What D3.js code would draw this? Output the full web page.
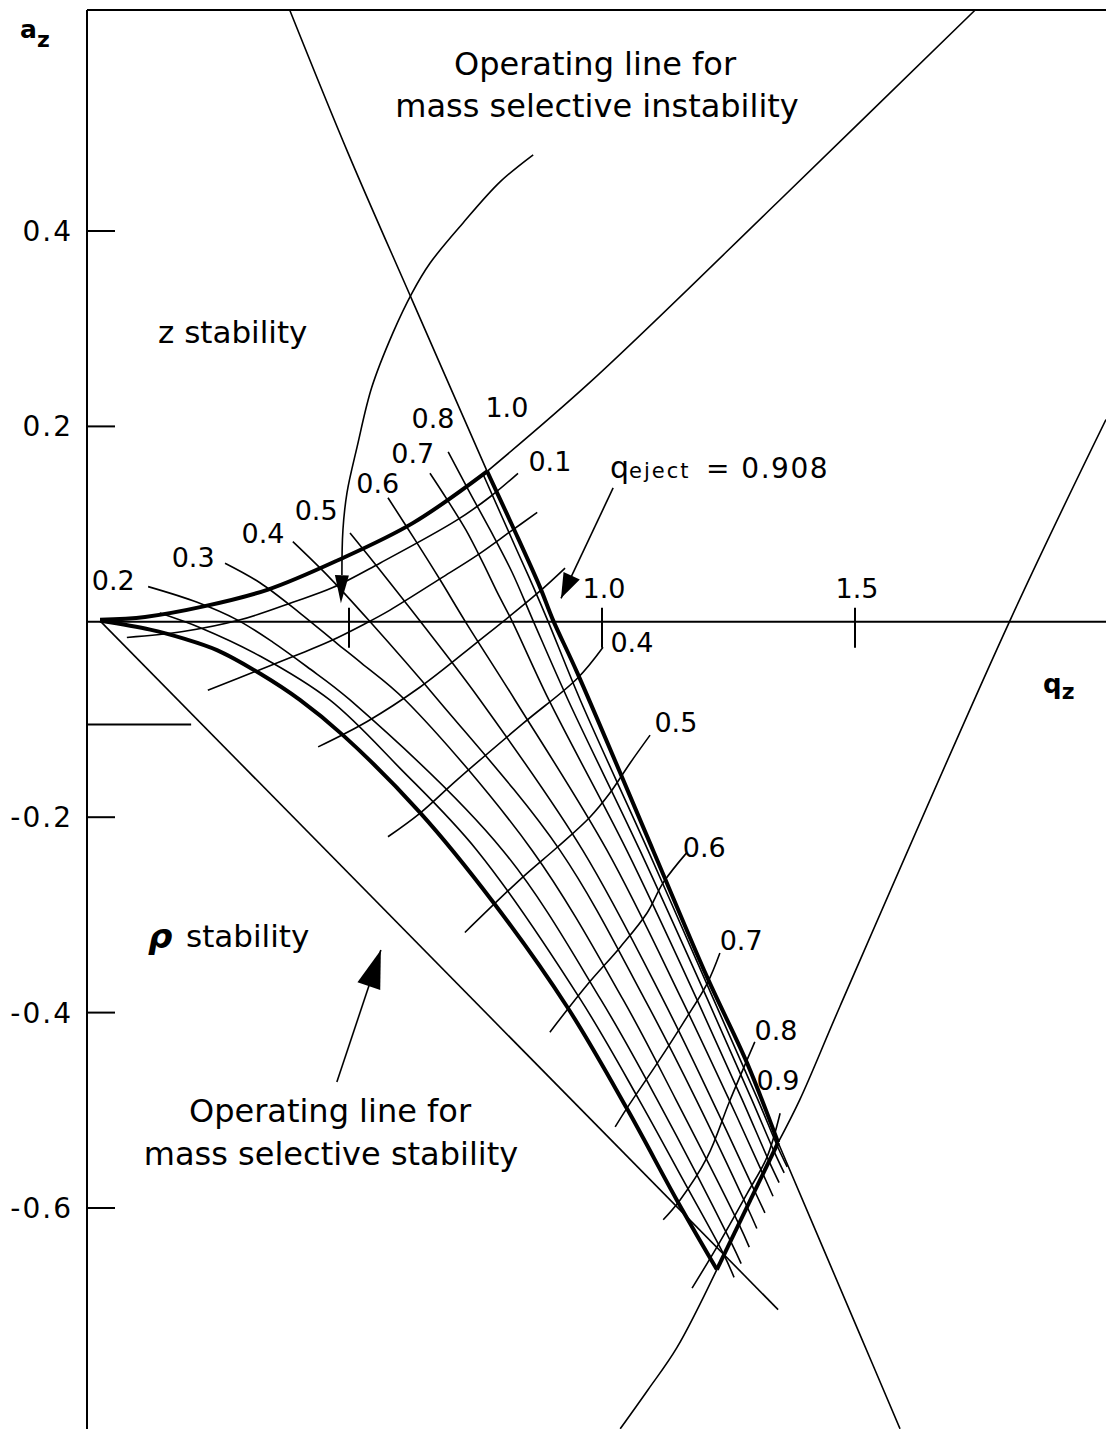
<!DOCTYPE html>
<html>
<head>
<meta charset="utf-8">
<script src="https://cdn.jsdelivr.net/npm/d3@7"></script>
<style>
body { margin: 0; background: #fff; }
svg { display: block; }
text { font-family: "DejaVu Sans", sans-serif; fill: #000; }
</style>
</head>
<body>
<div id="chart"></div>
<script>
// stability diagram, a_z against q_z, with iso-beta lines
var W = 1106, H = 1429

var xTicks = [0.5, 1.0, 1.5]
var xTickLabels = ["", "1.0", "1.5"]
var yTicks = [0.4, 0.2, -0.2, -0.4, -0.6]
var yTickLabels = ["0.4", "0.2", "-0.2", "-0.4", "-0.6"]
var aMark = -0.105

// boundaries, points are [q, a]
var betaR0 = [[0.008,0.002],[0.097,0.005],[0.215,0.016],[0.340,0.033],[0.478,0.063],[0.626,0.101],[0.773,0.154]]
var betaR0ext = [[0.773,0.154],[0.976,0.245],[1.352,0.432],[1.737,0.626]]
var betaZ0 = [[0.008,0.001],[0.107,-0.008],[0.172,-0.017],[0.239,-0.029],[0.324,-0.053],[0.403,-0.080],[0.488,-0.116],[0.640,-0.195],[0.785,-0.287],[0.931,-0.394],[1.049,-0.498],[1.148,-0.592],[1.227,-0.663]]
var betaZ1top = [[0.383,0.626],[0.498,0.480],[0.625,0.329],[0.773,0.154]]
var betaZ1 = [[0.773,0.154],[0.824,0.097],[0.877,0.036],[0.903,0.002],[0.951,-0.052],[1.101,-0.234],[1.208,-0.364],[1.287,-0.452],[1.348,-0.533]]
var betaZ1ext = [[1.348,-0.533],[1.506,-0.725],[1.589,-0.826]]
var betaR1low = [[1.036,-0.826],[1.091,-0.786],[1.148,-0.743],[1.227,-0.663]]
var betaR1 = [[1.227,-0.663],[1.348,-0.533]]
var betaR1ext = [[1.348,-0.533],[1.391,-0.489],[1.470,-0.394],[1.806,0.001],[1.996,0.207]]

// operating lines
var opStable = [[0.008,0.001],[1.348,-0.704]]
var opUnstable = [[0.864,0.478],[0.798,0.450],[0.725,0.408],[0.660,0.367],[0.625,0.337],[0.587,0.296],[0.545,0.240],[0.516,0.179],[0.496,0.132],[0.488,0.094],[0.486,0.048],[0.484,0.019]]

// iso beta_z lines
var isoZvals = ["0.1","0.2","0.3","0.4","0.5","0.6","0.7","0.8","0.9"]
var isoZ = [
  [[0.126,0.009],[0.206,-0.006],[0.324,-0.035],[0.462,-0.080],[0.601,-0.150],[0.753,-0.234],[0.958,-0.387],[1.073,-0.489],[1.160,-0.571],[1.241,-0.648],[1.261,-0.671]],
  [[0.103,0.036],[0.200,0.020],[0.279,0.002],[0.350,-0.021],[0.417,-0.046],[0.502,-0.080],[0.804,-0.234],[0.998,-0.387],[1.109,-0.489],[1.255,-0.635],[1.275,-0.657]],
  [[0.255,0.060],[0.324,0.040],[0.403,0.009],[0.476,-0.022],[0.524,-0.042],[0.611,-0.080],[0.862,-0.234],[1.042,-0.387],[1.146,-0.489],[1.271,-0.617],[1.291,-0.640]],
  [[0.389,0.082],[0.462,0.045],[0.540,0.001],[0.676,-0.080],[0.917,-0.234],[1.085,-0.387],[1.186,-0.489],[1.287,-0.599],[1.306,-0.621]],
  [[0.502,0.091],[0.561,0.053],[0.640,0.001],[0.759,-0.080],[0.962,-0.234],[1.121,-0.387],[1.217,-0.489],[1.302,-0.583],[1.322,-0.605]],
  [[0.577,0.127],[0.634,0.081],[0.680,0.043],[0.729,0.001],[0.828,-0.080],[1.010,-0.234],[1.158,-0.387],[1.251,-0.489],[1.318,-0.565],[1.338,-0.588]],
  [[0.660,0.152],[0.694,0.125],[0.731,0.094],[0.765,0.060],[0.794,0.029],[0.822,0.001],[0.895,-0.080],[1.049,-0.234],[1.188,-0.387],[1.277,-0.489],[1.330,-0.552],[1.350,-0.574]],
  [[0.696,0.174],[0.739,0.132],[0.779,0.094],[0.822,0.051],[0.864,0.001],[0.933,-0.080],[1.075,-0.234],[1.209,-0.387],[1.296,-0.489],[1.340,-0.542],[1.360,-0.564]],
  [[0.765,0.151],[0.832,0.073],[0.864,0.036],[0.893,0.001],[0.957,-0.080],[1.091,-0.234],[1.221,-0.387],[1.308,-0.489],[1.346,-0.536],[1.366,-0.558]]
]
var isoZlabels = ["0.2","0.3","0.4","0.5","0.6","0.7","0.8","1.0"]
var isoZlabelAt = [[0.034,0.033],[0.192,0.056],[0.330,0.081],[0.435,0.104],[0.557,0.132],[0.626,0.163],[0.666,0.198],[0.812,0.210]]

// iso beta_r lines
var isoRvals = ["0.1","0.2","0.3","0.4","0.5","0.6","0.7","0.8","0.9"]
var isoR = [
  [[0.061,-0.016],[0.172,-0.010],[0.285,0.002],[0.389,0.020],[0.468,0.035],[0.561,0.060],[0.713,0.104],[0.779,0.128],[0.834,0.152]],
  [[0.221,-0.070],[0.324,-0.049],[0.397,-0.034],[0.462,-0.020],[0.528,-0.003],[0.581,0.012],[0.686,0.046],[0.753,0.068],[0.818,0.092],[0.872,0.112]],
  [[0.439,-0.128],[0.536,-0.102],[0.640,-0.067],[0.753,-0.021],[0.872,0.029],[0.927,0.055]],
  [[0.577,-0.220],[0.640,-0.196],[0.713,-0.162],[0.844,-0.104],[0.951,-0.058],[1.002,-0.026]],
  [[0.729,-0.318],[0.844,-0.261],[0.911,-0.231],[0.976,-0.200],[1.016,-0.175],[1.055,-0.145],[1.095,-0.116]],
  [[0.897,-0.420],[0.970,-0.372],[1.036,-0.333],[1.089,-0.298],[1.121,-0.267],[1.168,-0.236]],
  [[1.026,-0.517],[1.049,-0.498],[1.109,-0.452],[1.160,-0.411],[1.208,-0.370],[1.233,-0.339]],
  [[1.121,-0.612],[1.154,-0.592],[1.208,-0.548],[1.252,-0.491],[1.302,-0.430]],
  [[1.178,-0.682],[1.227,-0.640],[1.287,-0.585],[1.326,-0.548],[1.352,-0.503]]
]
var isoRlabels = ["0.1","0.4","0.5","0.6","0.7","0.8","0.9"]
var isoRlabelAt = [[0.897,0.154],[1.059,-0.031],[1.146,-0.113],[1.202,-0.241],[1.275,-0.336],[1.344,-0.428],[1.348,-0.479]]

// arrows [from, tip]
var ejectArrow = [[1.022,0.137],[0.919,0.024]]
var stableArrow = [[0.476,-0.471],[0.563,-0.336]]

var x = d3.scaleLinear().domain([0, 1.5]).range([96, 855])
var y = d3.scaleLinear().domain([0.4, -0.6]).range([231, 1208])

var svg = d3.select("#chart").append("svg")
  .attr("width", W)
  .attr("height", H)

var line = d3.line()
  .x(function(d) { return x(d[0]) })
  .y(function(d) { return y(d[1]) })
  .curve(d3.curveCatmullRom.alpha(0.5))

function drawCurve(pts, w) {
  svg.append("path")
    .attr("d", line(pts))
    .attr("fill", "none")
    .attr("stroke", "#000")
    .attr("stroke-width", w)
    .attr("stroke-linejoin", "round")
}

// filled arrow head at the tip, pointing away from "from"
function arrowHead(from, tip, len, half) {
  var x0 = x(from[0]), y0 = y(from[1]), x1 = x(tip[0]), y1 = y(tip[1])
  var dx = x1 - x0, dy = y1 - y0, l = Math.sqrt(dx*dx + dy*dy)
  var ux = dx/l, uy = dy/l
  var bx = x1 - ux*len, by = y1 - uy*len
  var p = [[x1,y1],[bx - uy*half, by + ux*half],[bx + uy*half, by - ux*half]]
  svg.append("path")
    .attr("d", "M" + p.join("L") + "Z")
    .attr("fill", "#000")
}

// frame and axis
var y0 = y(0)
svg.append("line").attr("x1", 87).attr("x2", 87).attr("y1", 10).attr("y2", H)
  .attr("stroke", "#000").attr("stroke-width", 2)
svg.append("line").attr("x1", 87).attr("x2", W).attr("y1", 10).attr("y2", 10)
  .attr("stroke", "#000").attr("stroke-width", 2)
svg.append("line").attr("x1", 87).attr("x2", W).attr("y1", y0).attr("y2", y0)
  .attr("stroke", "#000").attr("stroke-width", 2)

svg.selectAll(".ytick").data(yTicks).enter().append("line")
  .attr("class", "ytick")
  .attr("x1", 87).attr("x2", 115)
  .attr("y1", function(d) { return y(d) }).attr("y2", function(d) { return y(d) })
  .attr("stroke", "#000").attr("stroke-width", 2)
svg.append("line").attr("x1", 87).attr("x2", x(0.188))
  .attr("y1", y(aMark)).attr("y2", y(aMark))
  .attr("stroke", "#000").attr("stroke-width", 2)

svg.selectAll(".ylab").data(yTicks).enter().append("text")
  .attr("class", "ylab")
  .attr("x", 73)
  .attr("y", function(d) { return y(d) + 10 })
  .attr("text-anchor", "end")
  .style("font-size", "28px")
  .style("letter-spacing", "2px")
  .text(function(d, i) { return yTickLabels[i] })

svg.selectAll(".xtick").data(xTicks).enter().append("line")
  .attr("class", "xtick")
  .attr("x1", function(d) { return x(d) }).attr("x2", function(d) { return x(d) })
  .attr("y1", y0 - 14).attr("y2", y0 + 26)
  .attr("stroke", "#000").attr("stroke-width", 2)
svg.selectAll(".xlab").data(xTicks).enter().append("text")
  .attr("class", "xlab")
  .attr("x", function(d) { return x(d) + 2 })
  .attr("y", y0 - 24)
  .attr("text-anchor", "middle")
  .style("font-size", "27px")
  .text(function(d, i) { return xTickLabels[i] })

// axis names
var az = svg.append("text").attr("x", 20).attr("y", 38)
  .style("font-weight", "bold")
az.append("tspan").style("font-size", "25px").text("a")
az.append("tspan").attr("dy", 9).style("font-size", "22px").text("z")
var qz = svg.append("text").attr("x", 1043).attr("y", 693)
  .style("font-weight", "bold")
qz.append("tspan").style("font-size", "26px").text("q")
qz.append("tspan").attr("dy", 6).style("font-size", "22px").text("z")

// thin extensions of the boundaries
drawCurve(betaR0ext, 1.6)
drawCurve(betaZ1top, 1.6)
drawCurve(betaZ1ext, 1.6)
drawCurve(betaR1low, 1.6)
drawCurve(betaR1ext, 1.6)
drawCurve(opStable, 1.6)

// iso lines
isoZ.forEach(function(pts) { drawCurve(pts, 1.6) })
isoR.forEach(function(pts) { drawCurve(pts, 1.6) })

// thick boundaries of the stable region
drawCurve(betaR0, 4)
drawCurve(betaZ0, 4)
drawCurve(betaZ1, 4)
drawCurve(betaR1, 4)

// operating line for instability, with its arrow
drawCurve(opUnstable.slice(0, opUnstable.length - 1), 1.6)
arrowHead(opUnstable[opUnstable.length - 2], opUnstable[opUnstable.length - 1], 28, 7)

drawCurve(ejectArrow, 1.6)
arrowHead(ejectArrow[0], ejectArrow[1], 25, 9)
drawCurve(stableArrow, 1.6)
arrowHead(stableArrow[0], stableArrow[1], 38, 12)

// iso line labels
svg.selectAll(".zlab").data(isoZlabels).enter().append("text")
  .attr("class", "zlab")
  .attr("x", function(d, i) { return x(isoZlabelAt[i][0]) })
  .attr("y", function(d, i) { return y(isoZlabelAt[i][1]) })
  .attr("text-anchor", "middle")
  .style("font-size", "27px")
  .text(function(d) { return d })
svg.selectAll(".rlab").data(isoRlabels).enter().append("text")
  .attr("class", "rlab")
  .attr("x", function(d, i) { return x(isoRlabelAt[i][0]) })
  .attr("y", function(d, i) { return y(isoRlabelAt[i][1]) })
  .attr("text-anchor", "middle")
  .style("font-size", "27px")
  .text(function(d) { return d })

// annotations
function note(str, cx, base, size, anchor) {
  svg.append("text")
    .attr("x", cx).attr("y", base)
    .attr("text-anchor", anchor || "middle")
    .style("font-size", size + "px")
    .text(str)
}
note("Operating line for", 595, 75, 32)
note("mass selective instability", 597, 117, 32)
note("z stability", 158, 343, 31, "start")
note("Operating line for", 330, 1122, 32)
note("mass selective stability", 331, 1165, 32)

svg.append("text").attr("x", 148).attr("y", 948)
  .style("font-size", "34px").style("font-weight", "bold").style("font-style", "italic")
  .text("ρ")
note("stability", 186, 947, 31, "start")

var qe = svg.append("text").attr("x", 610).attr("y", 478)
qe.append("tspan").style("font-size", "30px").text("q")
qe.append("tspan").style("font-size", "21px").style("letter-spacing", "2px").text("eject")
qe.append("tspan").attr("x", 706).style("font-size", "28px").style("letter-spacing", "1.5px").text("= 0.908")
</script>
</body>
</html>
